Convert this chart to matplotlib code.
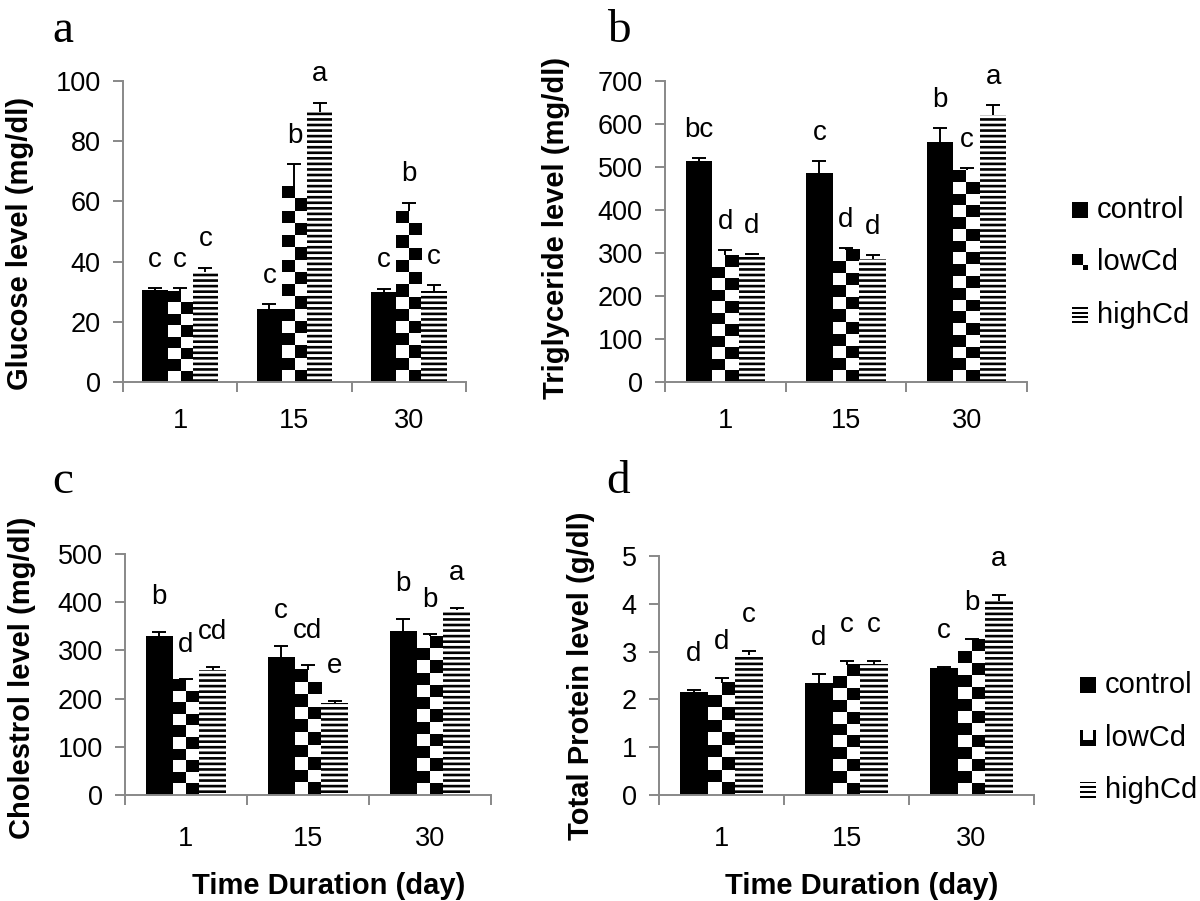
import numpy as np
import matplotlib
matplotlib.use("Agg")
import matplotlib.pyplot as plt

plt.rcParams['font.family'] = ['Liberation Sans', 'DejaVu Sans']
plt.rcParams['hatch.linewidth'] = 1.9

# data
days = ['1', '15', '30']
groups = ['control', 'lowCd', 'highCd']

glucose = [[30.7, 24.4, 29.9], [30.1, 64.8, 56.8], [36.5, 89.7, 30.2]]
glucose_err = [[0.5, 1.4, 1.0], [1.0, 7.5, 2.7], [1.5, 3.0, 1.9]]
glucose_let = [['c', 'c', 'c'], ['c', 'b', 'b'], ['c', 'a', 'c']]

trig = [[513, 486, 559], [295, 308, 492], [295, 287, 622]]
trig_err = [[9, 29, 32], [13, 4, 5], [2, 8, 22]]
trig_let = [['bc', 'c', 'b'], ['d', 'd', 'c'], ['d', 'd', 'a']]

chol = [[330, 287, 341], [239, 260, 329], [260, 191, 384]]
chol_err = [[8, 22, 24], [1, 9, 4], [6, 5, 5]]
chol_let = [['b', 'c', 'b'], ['d', 'cd', 'b'], ['cd', 'e', 'a']]

prot = [[2.16, 2.35, 2.66], [2.35, 2.72, 3.25], [2.93, 2.74, 4.05]]
prot_err = [[0.04, 0.18, 0.02], [0.09, 0.09, 0.02], [0.08, 0.07, 0.13]]
prot_let = [['d', 'd', 'c'], ['d', 'c', 'b'], ['c', 'c', 'a']]

W, H = 1200, 901
fig = plt.figure(figsize=(W / 100, H / 100), dpi=100)
GRAY = '#888888'
bw = 0.22
sq = 12.0  # checker square size in pixels


def px_box(l, t, r, b):
    return [l / W, 1 - b / H, (r - l) / W, (b - t) / H]


def panel(box, vals, errs, lets, ymax, ystep, ylabel, lab_xy, let_off, xpad):
    ax = fig.add_axes(px_box(*box))
    ax.set_xlim(-0.5, 2.5)
    ax.set_ylim(0, ymax)
    x = np.arange(len(days))
    # control
    ax.bar(x - bw, vals[0], bw, color='black', lw=0, zorder=2)
    # lowCd: checkerboard
    ax.bar(x, vals[1], bw, color='white', lw=0, zorder=2)
    to_px = ax.transData.transform
    for xi, v in zip(x, vals[1]):
        x0 = xi - bw / 2
        p0, p1 = to_px([(x0, 0), (x0 + bw, v)])
        ncol = max(1, int(round((p1[0] - p0[0]) / sq)))
        nrow = max(1, int(round((p1[1] - p0[1]) / sq)))
        chk = np.indices((nrow, ncol)).sum(0) % 2
        ax.imshow(chk, cmap='Greys', vmin=0, vmax=1, extent=(x0, x0 + bw, 0, v),
                  aspect='auto', interpolation='nearest', origin='lower', zorder=2)
    # highCd: horizontal lines
    ax.bar(x + bw, vals[2], bw, color='white', edgecolor='black', lw=0,
           hatch='---', zorder=2)
    ax.set_xlim(-0.5, 2.5)
    ax.set_ylim(0, ymax)

    for k in range(3):
        xs = x + (k - 1) * bw
        top = np.array(vals[k]) + np.array(errs[k])
        ax.vlines(xs, vals[k], top, color='black', lw=1.4, zorder=3)
        ax.plot(xs, top, '_', color='black', ms=10, mew=1.4, zorder=3)
        for xi, ti, s in zip(xs, top, lets[k]):
            ax.annotate(s, (xi, ti), xytext=(0, let_off), textcoords='offset points',
                        ha='center', va='baseline', fontsize=20)

    for s in ['top', 'right']:
        ax.spines[s].set_visible(False)
    for s in ['left', 'bottom']:
        ax.spines[s].set_color(GRAY)
        ax.spines[s].set_linewidth(1.4)
    ax.set_yticks(np.arange(0, ymax + ystep / 2, ystep))
    ax.tick_params(axis='y', length=7, width=1.4, color=GRAY, pad=9, labelsize=19.5)
    ax.set_xticks(x)
    ax.set_xticklabels(days)
    ax.set_xticks([-0.5, 0.5, 1.5, 2.5], minor=True)
    ax.tick_params(axis='x', which='major', length=0, pad=xpad, labelsize=19.5)
    ax.tick_params(axis='x', which='minor', length=7, width=1.4, color=GRAY)
    fig.text(lab_xy[0] / W, 1 - lab_xy[1] / H, ylabel, rotation=90, ha='center',
             va='center', fontsize=21, fontweight='bold')
    return ax


panel((123, 81, 466, 382), glucose, glucose_err, glucose_let, 100, 20,
      'Glucose level (mg/dl)', (20, 243), 15.5, 19)
panel((665, 81, 1027, 382), trig, trig_err, trig_let, 700, 100,
      'Triglyceride level (mg/dl)', (556, 228), 15, 19)
panel((125, 554, 491, 795), chol, chol_err, chol_let, 500, 100,
      'Cholestrol level (mg/dl)', (22, 678), 20, 22)
panel((659, 556, 1034, 795), prot, prot_err, prot_let, 5, 1,
      'Total Protein level (g/dl)', (581, 676), 21, 22)

# x axis titles
for cx in [329, 862]:
    fig.text(cx / W, 1 - 886 / H, 'Time Duration (day)', ha='center', va='center',
             fontsize=21, fontweight='bold')

# panel letters
for s, lx, by in [('a', 52, 42), ('b', 607, 42), ('c', 52, 493), ('d', 606, 493)]:
    fig.text(lx / W, 1 - by / H, s, family='Liberation Serif', fontsize=34,
             ha='left', va='baseline')

# legends drawn by hand
solid = np.ones((1, 1))
chk_top = np.array([[1, 1, 0], [1, 1, 0], [0, 0, 1]])
chk_bot = np.array([[1, 0, 0, 0, 1], [1, 0, 0, 0, 1], [1, 0, 0, 0, 1],
                    [1, 1, 1, 1, 1], [1, 1, 1, 1, 1]])
stripes = np.array([[1], [0], [1], [0], [1], [0], [1]])


def legend(x0, ys, icons):
    for y, icon, name in zip(ys, icons, groups):
        iax = fig.add_axes(px_box(x0, y - 8, x0 + 16, y + 8))
        iax.imshow(icon, cmap='Greys', vmin=0, vmax=1, aspect='auto',
                   interpolation='nearest')
        iax.axis('off')
        fig.text((x0 + 25) / W, 1 - y / H, name, ha='left', va='center', fontsize=21)


legend(1072, [210, 262, 315], [solid, chk_top, stripes])
legend(1080, [685, 738, 790], [solid, chk_bot, stripes])

fig.savefig('out.png', dpi=100)
